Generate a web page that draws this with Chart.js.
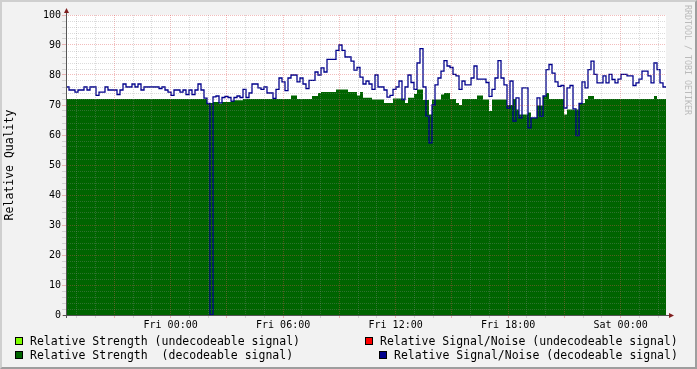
<!DOCTYPE html>
<html>
<head>
<meta charset="utf-8">
<script src="https://cdn.jsdelivr.net/npm/chart.js@4.4.0/dist/chart.umd.min.js"></script>
<style>
  body { margin: 0; background: #f2f2f2; }
  #wrap { position: relative; width: 697px; height: 369px; font-family: 'DejaVu Sans Mono', monospace; }
  #frame { position: absolute; left: 0; top: 0; width: 697px; height: 369px; box-sizing: border-box;
           background: #f2f2f2; border-style: solid; border-width: 2px;
           border-color: #cfcfcf #9e9e9e #9e9e9e #cfcfcf; }
  canvas { position: absolute; left: 0; top: 0; }
  .sw { position: absolute; width: 6px; height: 6px; border: 1px solid #000; }
  .lbl { position: absolute; font-size: 11.5px; line-height: 14px; white-space: pre; color: #000; }
  #mark { position: absolute; left: 683px; top: 5px; writing-mode: vertical-rl; font-size: 8.3px; color: #bbb; }
</style>
</head>
<body>
<div id="wrap">
  <div id="frame"></div>
  <canvas id="chart" width="697" height="369"></canvas>
  <div id="mark">RRDTOOL / TOBI OETIKER</div>

  <div class="sw" style="left:15px;top:337px;background:#7fff00"></div>
  <div class="lbl" style="left:30px;top:334px">Relative Strength (undecodeable signal)</div>
  <div class="sw" style="left:15px;top:351px;background:#006400"></div>
  <div class="lbl" style="left:30px;top:348px">Relative Strength  (decodeable signal)</div>

  <div class="sw" style="left:365px;top:337px;background:#ff0000"></div>
  <div class="lbl" style="left:380px;top:334px">Relative Signal/Noise (undecodeable signal)</div>
  <div class="sw" style="left:379px;top:351px;background:#00008b"></div>
  <div class="lbl" style="left:394px;top:348px">Relative Signal/Noise (decodeable signal)</div>
</div>

<script>
// time axis: hours relative to Fri 00:00, one sample every 0.16 h
const t0 = -5.58;
const dt = 0.16;

// x tick labels
const tickHours = [0, 6, 12, 18, 24];
const tickNames = ['Fri 00:00', 'Fri 06:00', 'Fri 12:00', 'Fri 18:00', 'Sat 00:00'];

// relative signal/noise (decodeable)
const sn = [
  76, 75, 75, 74.3, 75, 75, 76, 75, 76, 76,
  73.2, 74.3, 74.3, 76, 75, 75, 75, 73.5, 75, 77,
  76, 76, 77, 76, 77, 75, 76, 76, 76, 76,
  76, 75.5, 76, 75, 74.3, 73.2, 75, 75, 74.3, 75,
  73.5, 75, 73.5, 75, 77, 75, 72.3, 70.5, 0, 72.7,
  73, 70.7, 72.5, 72.9, 72.5, 71.3, 72.5, 73, 72.5, 75.2,
  72.5, 74, 77, 77, 75.7, 75.2, 76, 74, 74, 72.2,
  75.2, 79, 77.7, 74.8, 79, 80, 80, 77.7, 79, 77,
  75.5, 78.2, 78.2, 81, 80, 82.4, 81, 85.2, 85.2, 85.2,
  88.2, 90, 88.2, 86, 86, 84.6, 81.6, 82.5, 79.3, 77,
  78, 77, 75.2, 80, 76, 76, 75, 72.6, 73.2, 75.2,
  76, 78, 71.8, 76, 80, 77.5, 75.2, 84, 88.8, 76,
  66.3, 57.4, 70, 76.7, 79, 81.3, 84.8, 83, 82.5, 80.2,
  79.7, 75.2, 78, 76.7, 76.7, 79, 83, 78.6, 78.6, 78.6,
  77.5, 72.9, 75.2, 79, 84.8, 79, 76.7, 69, 78, 64.6,
  72.4, 65.7, 75.7, 75.7, 62.4, 65.7, 65.7, 72.4, 66.2, 73,
  81.8, 83.5, 80.6, 77.7, 76.2, 76.5, 69, 75.7, 76.5, 68.7,
  59.8, 70.5, 77.7, 75.7, 81.8, 84.6, 80.2, 77.4, 77.4, 79.7,
  77.4, 80.2, 78.5, 77.4, 78.6, 80.2, 80.2, 79.7, 79.7, 76.5,
  77.4, 78.6, 81.3, 81.3, 79.7, 77.4, 84, 81.8, 77.4, 76
];

// relative strength (decodeable)
const strength = [
  72, 72, 72, 72, 72, 72, 72, 72, 72, 72,
  72, 72, 72, 72, 72, 72, 72, 72, 72, 72,
  72, 72, 72, 72, 72, 72, 72, 72, 72, 72,
  72, 72, 72, 72, 72, 72, 72, 72, 72, 72,
  72, 72, 72, 72, 72, 72, 72, 70.7, 70.7, 71,
  71, 70.5, 71, 71, 71, 71.3, 71.6, 71.6, 71.6, 72,
  72, 72, 72, 72, 72, 72, 72, 72, 72, 72,
  72, 72, 72, 72, 72, 73.2, 73.2, 72, 72, 72,
  72, 72, 73, 73, 74, 74.3, 74.3, 74.3, 74.3, 74.3,
  75.2, 75.2, 75.2, 75.2, 74.3, 74.3, 74.3, 73.2, 74.3, 72.4,
  72.4, 72.4, 71.8, 71.8, 71.8, 71.8, 70.7, 70.7, 70.7, 72.2,
  72.2, 72.2, 72.2, 70.7, 72.4, 72.4, 73.7, 75.2, 75.2, 71.7,
  71.7, 66.8, 71.8, 71.8, 71.8, 73.5, 74, 74, 72, 72,
  70.7, 70, 72, 72, 72, 72, 72, 73.2, 73.2, 71.8,
  71.8, 68, 71.8, 71.8, 71.8, 71.8, 71.8, 70, 70, 72,
  68.5, 66.8, 66.8, 66.8, 67.5, 65.7, 65.7, 69.8, 69.8, 72.9,
  74, 72, 72, 72, 72, 72, 66.8, 68.5, 68.5, 68.5,
  68.5, 70.7, 70.7, 72, 73, 73, 72, 72, 72, 72,
  72, 72, 72, 72, 72, 72, 72, 72, 72, 72,
  72, 72, 72, 72, 72, 72, 73, 72, 72, 72
];

const tEnd = t0 + dt * sn.length;
const hourTicks = [];
for (let h = Math.ceil(t0); h <= tEnd; h++) hourTicks.push(h);

// stepped series: each value holds until the next sample, last one until the edge
const toPoints = vals => {
  const pts = vals.map((v, i) => ({ x: t0 + dt * i, y: v }));
  pts.push({ x: tEnd, y: vals[vals.length - 1] });
  return pts;
};

const FONT = "'DejaVu Sans Mono', monospace";
const MINOR = 'rgba(143,143,143,0.32)';
const MAJOR = 'rgba(222,79,79,0.38)';

// white canvas behind the plot, axes and arrows on top
const rrdFrame = {
  id: 'rrdFrame',
  beforeDraw(chart) {
    const a = chart.chartArea, ctx = chart.ctx;
    ctx.save();
    ctx.fillStyle = '#fff';
    ctx.fillRect(a.left, a.top, a.right - a.left, a.bottom - a.top);
    ctx.restore();
  },
  afterDraw(chart) {
    const a = chart.chartArea, ctx = chart.ctx;
    ctx.save();
    ctx.strokeStyle = '#555';
    ctx.lineWidth = 1;
    ctx.beginPath();
    ctx.moveTo(a.left + 0.5, a.bottom + 3);
    ctx.lineTo(a.left + 0.5, a.top - 3);
    ctx.moveTo(a.left - 3, a.bottom + 0.5);
    ctx.lineTo(a.right + 3, a.bottom + 0.5);
    ctx.stroke();
    ctx.fillStyle = '#801f1f';
    ctx.beginPath();
    ctx.moveTo(a.left - 2, a.top - 2);
    ctx.lineTo(a.left + 3, a.top - 2);
    ctx.lineTo(a.left + 0.5, a.top - 7);
    ctx.fill();
    ctx.beginPath();
    ctx.moveTo(a.right + 3, a.bottom - 2);
    ctx.lineTo(a.right + 3, a.bottom + 3);
    ctx.lineTo(a.right + 8, a.bottom + 0.5);
    ctx.fill();
    ctx.restore();
  }
};

new Chart(document.getElementById('chart'), {
  type: 'line',
  data: {
    datasets: [
      {
        label: 'Relative Signal/Noise (decodeable signal)',
        data: toPoints(sn),
        borderColor: '#00008b',
        borderWidth: 1.3,
        stepped: true,
        pointRadius: 0,
        fill: false
      },
      {
        label: 'Relative Strength  (decodeable signal)',
        data: toPoints(strength),
        borderWidth: 0,
        borderColor: 'rgba(0,0,0,0)',
        backgroundColor: '#006400',
        stepped: true,
        pointRadius: 0,
        fill: 'origin'
      }
    ]
  },
  options: {
    responsive: false,
    animation: false,
    layout: { padding: { top: 15, right: 31, left: 0, bottom: 0 } },
    plugins: { legend: { display: false }, tooltip: { enabled: false } },
    scales: {
      x: {
        type: 'linear',
        min: t0,
        max: tEnd,
        afterBuildTicks: s => { s.ticks = hourTicks.map(v => ({ value: v })); },
        afterFit: s => { s.height = 54; },
        grid: {
          z: 1,
          lineWidth: 1,
          tickLength: 3,
          tickBorderDash: [],
          color: c => (c.tick && c.tick.value % 3 === 0) ? MAJOR : MINOR
        },
        border: { display: false, dash: [1, 1] },
        ticks: {
          autoSkip: false,
          maxRotation: 0,
          padding: 1,
          color: '#000',
          font: { family: FONT, size: 10 },
          callback: v => {
            const k = tickHours.indexOf(v);
            return k < 0 ? '' : tickNames[k];
          }
        }
      },
      y: {
        min: 0,
        max: 100,
        afterFit: s => { s.width = 66; },
        grid: {
          z: 1,
          lineWidth: 1,
          tickLength: 4,
          tickBorderDash: [],
          color: c => (c.tick && c.tick.value % 10 === 0) ? MAJOR : MINOR
        },
        border: { display: false, dash: [1, 1] },
        ticks: {
          stepSize: 2,
          autoSkip: false,
          padding: 1,
          color: '#000',
          font: { family: FONT, size: 10 },
          callback: v => v % 10 === 0 ? String(v) : ''
        },
        title: {
          display: true,
          text: 'Relative Quality',
          color: '#000',
          font: { family: FONT, size: 11.5 },
          padding: { top: 3, bottom: 0 }
        }
      }
    }
  },
  plugins: [rrdFrame]
});
</script>
</body>
</html>
